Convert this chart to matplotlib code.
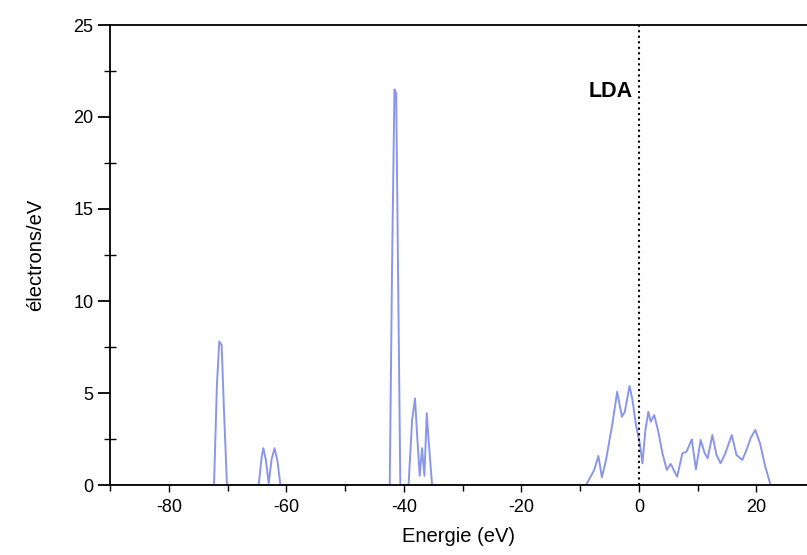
import matplotlib.pyplot as plt
from matplotlib.ticker import MultipleLocator

# ── 1. Data: density of states (LDA) ─────────────────────────
energy = [
    -90.0, -72.3, -71.8, -71.4, -71.0, -70.6, -70.1,
    -64.7, -64.2, -63.9, -63.5, -63.0, -62.5, -62.0, -61.5, -61.0,
    -42.4, -42.0, -41.6, -41.3, -41.0, -40.6,
    -39.2, -38.6, -38.1, -37.7, -37.3, -36.9, -36.5, -36.1, -35.8, -35.2,
    -9.0, -7.6, -6.9, -6.3, -5.6, -5.0, -4.5, -3.7, -2.9, -2.4, -1.6, -1.1,
    -0.5, 0.2, 0.6, 1.1, 1.6, 2.0, 2.6, 3.3, 4.0, 4.75, 5.4, 6.5, 7.4, 8.1,
    9.0, 9.7, 10.5, 11.2, 11.7, 12.5, 13.2, 13.9, 14.7, 15.8, 16.6, 17.6,
    18.3, 19.0, 19.8, 20.6, 21.5, 22.4, 28.6,
]
dos = [
    0.0, 0.0, 5.5, 7.8, 7.6, 4.0, 0.0,
    0.0, 1.5, 2.0, 1.4, 0.1, 1.4, 2.0, 1.3, 0.0,
    0.0, 12.0, 21.5, 21.3, 12.0, 0.0,
    0.0, 3.5, 4.7, 2.5, 0.5, 2.0, 0.5, 3.9, 2.5, 0.0,
    0.0, 0.82, 1.58, 0.42, 1.36, 2.45, 3.35, 5.07, 3.71, 3.98, 5.38, 4.62,
    3.26, 2.17, 1.18, 2.99, 3.98, 3.44, 3.8, 2.9, 1.72, 0.82, 1.15, 0.45, 1.72, 1.81,
    2.48, 0.85, 2.45, 1.72, 1.45, 2.72, 1.63, 1.18, 1.72, 2.72, 1.63, 1.36,
    1.9, 2.54, 2.99, 2.27, 1.0, 0.0, 0.0,
]

# ── 2. Figure ────────────────────────────────────────────────
plt.rcParams['font.family'] = ['Liberation Sans', 'DejaVu Sans']
plt.rcParams['axes.unicode_minus'] = False

fig = plt.figure(figsize=(8.07, 5.55), dpi=100)
ax = fig.add_axes([110 / 807, 70 / 555, 697 / 807, 460 / 555])

ax.plot(energy, dos, color='#8a96ea', lw=1.4)
ax.axvline(0, color='black', ls=':', lw=1.5)
ax.text(-1.0, 21.4, 'LDA', ha='right', va='center', fontsize=15.5,
        fontweight='bold')

ax.set_xlim(-90, 28.6)
ax.set_ylim(0, 25)
ax.spines['right'].set_visible(False)
for s in ['left', 'top', 'bottom']:
    ax.spines[s].set_linewidth(1.3)

ax.xaxis.set_major_locator(MultipleLocator(20))
ax.xaxis.set_minor_locator(MultipleLocator(10))
ax.yaxis.set_major_locator(MultipleLocator(5))
ax.yaxis.set_minor_locator(MultipleLocator(2.5))
ax.tick_params(axis='x', which='major', direction='out', length=5, width=1,
               labelsize=13, pad=5)
ax.tick_params(axis='x', which='minor', direction='out', length=4, width=1)
ax.tick_params(axis='y', which='major', direction='out', length=9, width=1.3,
               labelsize=13, pad=3)
ax.tick_params(axis='y', which='minor', direction='inout', length=8, width=1)

ax.set_xlabel('Energie (eV)', fontsize=14.5, labelpad=8)
ax.set_ylabel('électrons/eV', fontsize=14.5, labelpad=20)

fig.savefig('out.png', dpi=100)
